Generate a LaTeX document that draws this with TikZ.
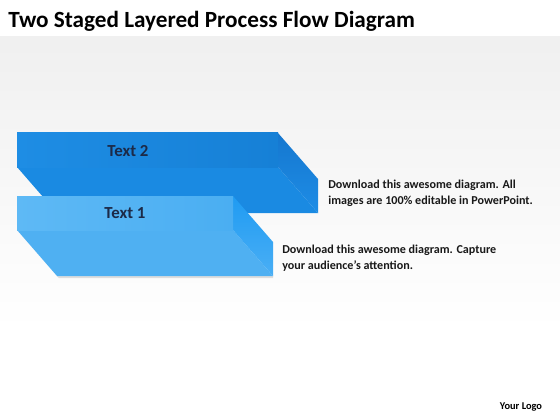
\documentclass[tikz,border=0pt]{standalone}
\usepackage{fontspec}
\setmainfont{Carlito}
\usetikzlibrary{positioning,calc}
\definecolor{twotop}{HTML}{1E8DE4}
\definecolor{twotopR}{HTML}{1680D6}
\definecolor{twolow}{HTML}{1A8AE2}
\definecolor{twoside}{HTML}{1577CF}
\definecolor{twosideB}{HTML}{1E8DE6}
\definecolor{onetop}{HTML}{5EB9F5}
\definecolor{onetopR}{HTML}{4AAEF2}
\definecolor{onelow}{HTML}{4FB0F2}
\definecolor{oneside}{HTML}{1F9BF2}
\definecolor{onesideB}{HTML}{4AAFF5}
\definecolor{labelnavy}{HTML}{1C2A48}
\tikzset{
  stagelabel/.style={font=\bfseries\fontsize{12}{14}\selectfont,text=labelnavy,inner sep=0pt},
  note/.style={font=\bfseries\fontsize{8.6}{11.2}\selectfont,align=left,anchor=north west,inner sep=0pt,text=black!90}
}
\begin{document}
\begin{tikzpicture}[x=0.025cm,y=-0.025cm]
	\useasboundingbox (0,0) rectangle (560,420);
	\fill[white] (0,0) rectangle (560,420);
	\shade[top color=black!6,bottom color=white] (0,37) rectangle (560,330);
	\node[font=\bfseries\fontsize{16.5}{19}\selectfont,anchor=base west,inner sep=0pt] (title) at (8,28) {Two Staged Layered Process Flow Diagram};
	
	% stage 2 (back)
	\coordinate (a2) at (17,133);
	\coordinate (b2) at (278,133);
	\coordinate (c2) at (278,167);
	\coordinate (d2) at (17,167);
	\coordinate (ext2) at (40,46);
	\fill[twolow] (d2)--(c2)--($(c2)+(ext2)$)--($(d2)+(ext2)$)--cycle;
	\shade[top color=twoside,bottom color=twosideB] (b2)--($(b2)+(ext2)$)--($(c2)+(ext2)$)--(c2)--cycle;
	\shade[left color=twotop,right color=twotopR] (a2) rectangle (c2);
	\node[stagelabel] (t2) at (128,151) {Text 2};
	
	% stage 1 (front)
	\coordinate (a1) at (17,196);
	\coordinate (b1) at (233,196);
	\coordinate (c1) at (233,230);
	\coordinate (d1) at (17,230);
	\coordinate (ext1) at (40,46);
	\fill[black!25,opacity=.5] ($(d1)+(ext1)+(0,0)$)--($(c1)+(ext1)$)--($(c1)+(ext1)+(0,2)$)--($(d1)+(ext1)+(2,2)$)--cycle;
	\fill[onelow] (d1)--(c1)--($(c1)+(ext1)$)--($(d1)+(ext1)$)--cycle;
	\shade[top color=oneside,bottom color=onesideB] (b1)--($(b1)+(ext1)$)--($(c1)+(ext1)$)--(c1)--cycle;
	\shade[left color=onetop,right color=onetopR] (a1) rectangle (c1);
	\node[stagelabel] (t1) at (125,213) {Text 1};
	
	\node[note] (n2) at (328,180) {Download this awesome diagram. All\\images are 100\% editable in PowerPoint.};
	\node[note] (n1) at (282,245) {Download this awesome diagram. Capture\\your audience’s attention.};
	\node[font=\bfseries\fontsize{7.4}{8}\selectfont,inner sep=0pt] (logo) at (521,407) {Your Logo};
\end{tikzpicture}
\end{document}
